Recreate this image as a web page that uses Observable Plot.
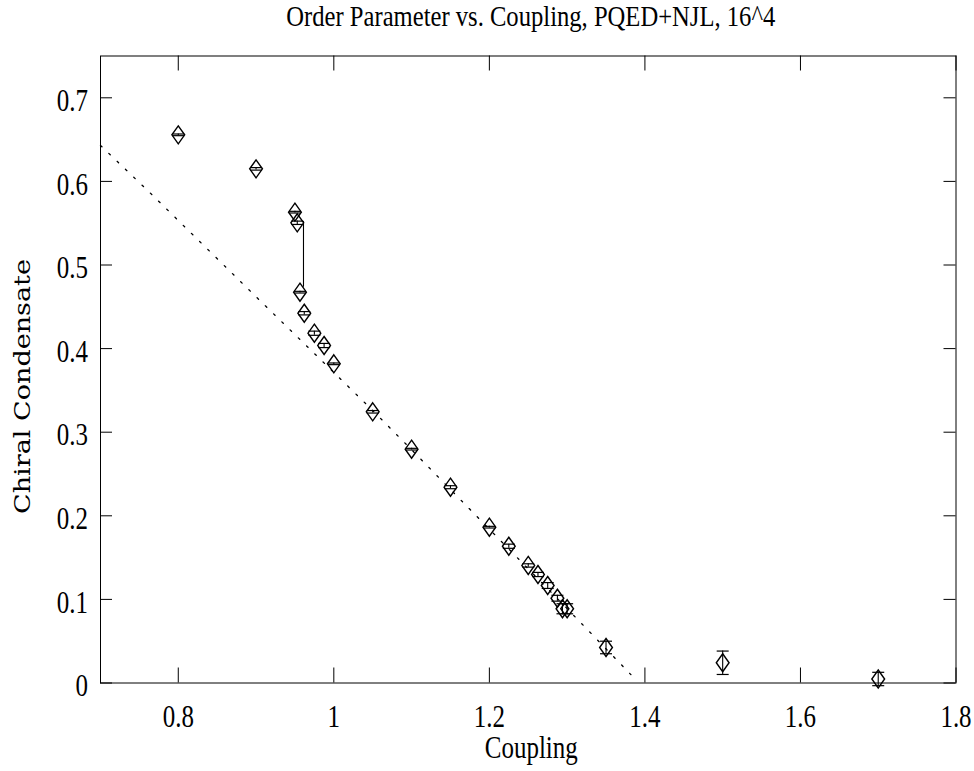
<!DOCTYPE html>
<html>
<head>
<meta charset="utf-8">
<script src="https://cdn.jsdelivr.net/npm/d3@7"></script>
<script src="https://cdn.jsdelivr.net/npm/@observablehq/plot@0.6"></script>
<style>
  body { margin: 0; background: #fff; }
  #chart svg { display: block; }
</style>
</head>
<body>
<div id="chart"></div>
<script>
// ---------- data ----------
const title = "Order Parameter vs. Coupling, PQED+NJL, 16^4";
const xLabel = "Coupling";
const yLabel = "Chiral Condensate";

const coupling   = [0.8, 0.9, 0.95, 0.953, 0.9565, 0.962, 0.975, 0.9875, 1.0, 1.05, 1.1, 1.15, 1.2, 1.225, 1.25, 1.2625, 1.275, 1.2875, 1.294, 1.3, 1.35, 1.5, 1.7];
const condensate = [0.6557, 0.615, 0.5632, 0.5505, 0.4675, 0.4423, 0.4184, 0.4037, 0.3818, 0.3244, 0.2797, 0.2342, 0.1864, 0.1636, 0.1406, 0.1298, 0.1166, 0.1014, 0.0888, 0.0888, 0.0425, 0.0242, 0.0048];
const condErr    = [0.001, 0.0015, 0.001, 0.002, 0.001, 0.002, 0.0025, 0.0025, 0.001, 0.0015, 0.001, 0.0018, 0.001, 0.0025, 0.002, 0.0025, 0.0035, 0.0035, 0.006, 0.006, 0.0075, 0.014, 0.008];

// long vertical bar near the jump
const jumpX    = [0.961];
const jumpLow  = [0.4734];
const jumpHigh = [0.552];

// dotted fit line
const fitCoupling   = [0.7, 0.763, 0.9, 1.0, 1.05, 1.1, 1.2, 1.3, 1.382];
const fitCondensate = [0.643, 0.587, 0.462, 0.3715, 0.326, 0.279, 0.184, 0.089, 0.010];

const xTicks = [0.8, 1, 1.2, 1.4, 1.6, 1.8];
const xTickLabels = ["0.8", "1", "1.2", "1.4", "1.6", "1.8"];
const yTicks = [0, 0.1, 0.2, 0.3, 0.4, 0.5, 0.6, 0.7];
const yTickLabels = ["0", "0.1", "0.2", "0.3", "0.4", "0.5", "0.6", "0.7"];

// ---------- build ----------
const points = coupling.map((x, i) => ({x, y: condensate[i], e: condErr[i]}));
const fit = fitCoupling.map((x, i) => ({x, y: fitCondensate[i]}));
const jump = jumpX.map((x, i) => ({x, lo: jumpLow[i], hi: jumpHigh[i]}));

const diamond = {draw(ctx) { ctx.moveTo(0, -9); ctx.lineTo(6.4, 0); ctx.lineTo(0, 9); ctx.lineTo(-6.4, 0); ctx.closePath(); }};
const cap = {draw(ctx) { ctx.moveTo(-6, 0); ctx.lineTo(6, 0); }};

const serif = "'Liberation Serif', 'Times New Roman', serif";
const W = 974, H = 771, mL = 100, mR = 18.5, mT = 55.5, mB = 88.5;
const pw = W - mL - mR, ph = H - mT - mB;

const plot = Plot.plot({
  width: W, height: H,
  marginLeft: mL, marginRight: mR, marginTop: mT, marginBottom: mB,
  style: {fontFamily: serif, background: "white", color: "black"},
  x: {domain: [0.7, 1.8]},
  y: {domain: [0, 0.75]},
  marks: [
    Plot.line(fit, {x: "x", y: "y", stroke: "black", strokeWidth: 1.3, strokeDasharray: "2,9.5"}),
    Plot.ruleX(jump, {x: "x", y1: "lo", y2: "hi", stroke: "black", strokeWidth: 1.1}),
    Plot.ruleX(points, {x: "x", y1: d => d.y - d.e, y2: d => d.y + d.e, stroke: "black", strokeWidth: 1.1}),
    Plot.dot(points, {x: "x", y: d => d.y - d.e, symbol: cap, fill: "none", stroke: "black", strokeWidth: 1.2}),
    Plot.dot(points, {x: "x", y: d => d.y + d.e, symbol: cap, fill: "none", stroke: "black", strokeWidth: 1.2}),
    Plot.dot(points, {x: "x", y: "y", symbol: diamond, fill: "none", stroke: "black", strokeWidth: 1.4}),
    // inward ticks on all four sides
    Plot.tickX(xTicks, {x: d => d, insetTop: ph - 15, stroke: "black"}),
    Plot.tickX(xTicks, {x: d => d, insetBottom: ph - 15, stroke: "black"}),
    Plot.tickY(yTicks, {y: d => d, insetRight: pw - 12, stroke: "black"}),
    Plot.tickY(yTicks, {y: d => d, insetLeft: pw - 12, stroke: "black"}),
    Plot.axisX({ticks: xTicks, tickFormat: d => xTickLabels[xTicks.indexOf(d)], tickSize: 0, tickPadding: 21, fontSize: 32, label: null}),
    Plot.axisY({ticks: yTicks, tickFormat: d => yTickLabels[yTicks.indexOf(d)], tickSize: 0, tickPadding: 12.5, fontSize: 32, label: null, dy: 3}),
    Plot.frame({stroke: "black", strokeWidth: 1}),
    Plot.text([title], {frameAnchor: "top", textAnchor: "middle", dx: 2.5, dy: -39.2, fontSize: 29, lineAnchor: "middle"}),
    Plot.text([xLabel], {frameAnchor: "bottom", textAnchor: "middle", dx: 3, dy: 64.5, fontSize: 32, lineAnchor: "middle"}),
    Plot.text([yLabel], {frameAnchor: "left", textAnchor: "middle", rotate: -90, dx: -78, dy: 17, fontSize: 22, fontFamily: "'DejaVu Serif', serif", lineAnchor: "middle"})
  ]
});

document.getElementById("chart").append(plot);

// condensed look of the original typeface
d3.select(plot).selectAll("text").each(function () {
  const txt = this.textContent;
  let target;
  if (txt === yLabel) target = 255;
  else if (txt === title) target = 489;
  else {
    const len = this.getComputedTextLength();
    if (!(len > 0)) return;
    target = len * 0.78;
  }
  this.setAttribute("textLength", target.toFixed(1));
  this.setAttribute("lengthAdjust", "spacingAndGlyphs");
});
</script>
</body>
</html>
